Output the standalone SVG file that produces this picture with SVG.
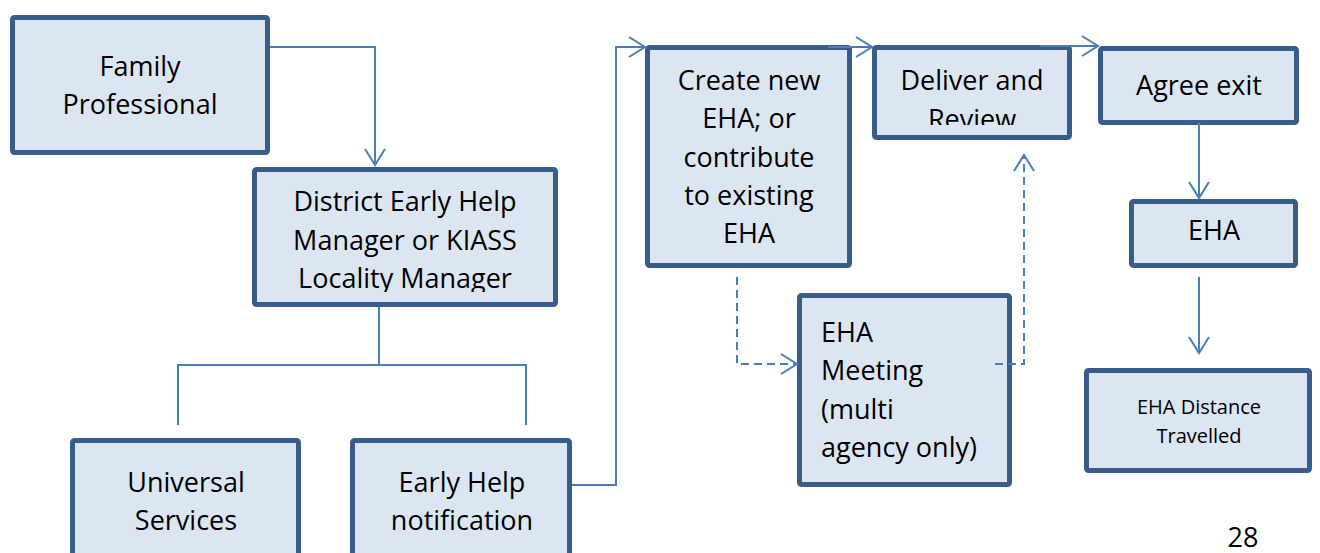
<svg xmlns="http://www.w3.org/2000/svg" width="1320" height="553" viewBox="0 0 1320 553">
<style>
.box{fill:#DCE6F2;stroke:#385D8A;stroke-width:5}
.t{font-family:"Open Sans","Liberation Sans",sans-serif;font-size:27px;fill:#000;text-anchor:middle}
.l{text-anchor:start}
.s{font-size:20px}
.c{fill:none;stroke:#4A7EBB;stroke-width:2}
.d{stroke-dasharray:8 5}
</style>
<defs>
<marker id="arr" markerUnits="userSpaceOnUse" markerWidth="22" markerHeight="26" viewBox="-18 -13 22 26" refX="0" refY="0" orient="auto">
<path d="M-16,-10 L0,0 L-16,10" fill="none" stroke="#4A7EBB" stroke-width="2"/>
</marker>
<clipPath id="clipDistrict"><rect x="252" y="167" width="306" height="125"/></clipPath>
<clipPath id="clipDeliver"><rect x="872" y="45" width="200" height="80"/></clipPath>
</defs>
<rect width="1320" height="553" fill="#fff"/>
<g id="family">
<rect class="box" x="12.5" y="17.5" width="255" height="135" rx="2"/>
<text class="t" x="140" y="76">Family</text>
<text class="t" x="140" y="114">Professional</text>
</g>
<g id="district">
<rect class="box" x="254.5" y="169.5" width="301" height="135" rx="2"/>
<g clip-path="url(#clipDistrict)">
<text class="t" x="405" y="211">District Early Help</text>
<text class="t" x="405" y="250">Manager or KIASS</text>
<text class="t" x="405" y="288">Locality Manager</text>
</g>
</g>
<g id="universal">
<rect class="box" x="72.5" y="440.5" width="226" height="130" rx="2"/>
<text class="t" x="186" y="492">Universal</text>
<text class="t" x="186" y="530">Services</text>
</g>
<g id="earlyhelp">
<rect class="box" x="352.5" y="440.5" width="217" height="130" rx="2"/>
<text class="t" x="462" y="492">Early Help</text>
<text class="t" x="462" y="530">notification</text>
</g>
<g id="create">
<rect class="box" x="647.5" y="47.5" width="202" height="218" rx="2"/>
<text class="t" x="749" y="90">Create new</text>
<text class="t" x="749" y="128">EHA; or</text>
<text class="t" x="749" y="167">contribute</text>
<text class="t" x="749" y="205">to existing</text>
<text class="t" x="749" y="243">EHA</text>
</g>
<g id="deliver">
<rect class="box" x="874.5" y="47.5" width="195" height="90" rx="2"/>
<g clip-path="url(#clipDeliver)">
<text class="t" x="972" y="90">Deliver and</text>
<text class="t" x="972" y="129">Review</text>
</g>
</g>
<g id="agree">
<rect class="box" x="1100.5" y="48.5" width="196" height="74" rx="2"/>
<text class="t" x="1199" y="95">Agree exit</text>
</g>
<g id="eha">
<rect class="box" x="1131.5" y="201.5" width="164" height="64" rx="2"/>
<text class="t" x="1214" y="240">EHA</text>
</g>
<g id="meeting">
<rect class="box" x="799.5" y="295.5" width="210" height="189" rx="2"/>
<text class="t l" x="821" y="342">EHA</text>
<text class="t l" x="821" y="380">Meeting</text>
<text class="t l" x="821" y="419">(multi</text>
<text class="t l" x="821" y="457">agency only)</text>
</g>
<g id="distance">
<rect class="box" x="1086.5" y="370.5" width="223" height="100" rx="2"/>
<text class="t s" x="1199" y="414">EHA Distance</text>
<text class="t s" x="1199" y="443">Travelled</text>
</g>
<g id="pagenum">
<text class="t" x="1243" y="547">28</text>
</g>
<g id="connectors">
<path class="c" d="M270,47 H375 V165" marker-end="url(#arr)"/>
<path class="c" d="M379,307 V365 M178,425 V365 H526 V425"/>
<path class="c" d="M572,485 H616 V47 H645" marker-end="url(#arr)"/>
<path class="c" d="M828,47 H872" marker-end="url(#arr)"/>
<path class="c" d="M1040,46 H1098" marker-end="url(#arr)"/>
<path class="c" d="M1199,123 V198" marker-end="url(#arr)"/>
<path class="c" d="M1199,277 V353" marker-end="url(#arr)"/>
<path class="c d" d="M737,277 V364 H797" marker-end="url(#arr)"/>
<path class="c d" d="M995,364 H1024 V155" marker-end="url(#arr)"/>
</g>
</svg>
